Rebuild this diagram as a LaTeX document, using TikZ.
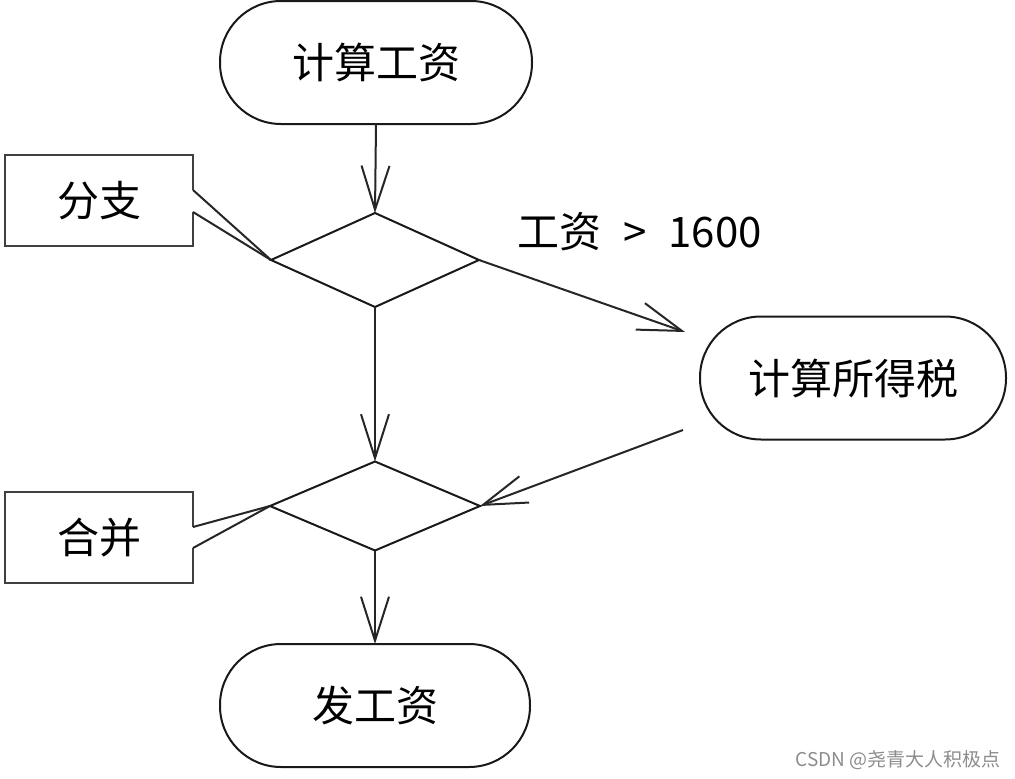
\documentclass[tikz,border=0pt]{standalone}
\usepackage{fontspec}
\newfontfamily\cjk{Noto Sans CJK SC}
\usetikzlibrary{shapes.geometric,arrows.meta,calc}
\begin{document}
\begin{tikzpicture}[x=1pt,y=-1pt,
  lbl/.style={font=\cjk\fontsize{42}{50}\selectfont},
  term/.style={draw=black!90, line width=2pt, rounded corners=61pt,
    minimum width=#1, minimum height=123pt, inner sep=0pt, outer sep=0pt, lbl},
  dec/.style={diamond, draw=black!90, line width=2pt, minimum width=#1,
    inner sep=0pt, outer sep=0pt},
  note/.style={rectangle, minimum width=188pt, minimum height=91pt,
    inner sep=0pt, outer sep=0pt, lbl},
  noteline/.style={draw=black!75, line width=2.4pt, line join=miter},
  conn/.style={draw=black!85, line width=2pt},
  arr/.style={conn, -{Straight Barb[length=44pt,width=28pt]}},
]
\useasboundingbox (0,0) rectangle (1015,779);

% terminals
\node[term=312pt] (start) at (376,62.5) {计算工资};
\node[term=306pt] (tax) at (853,378) {计算所得税};
\node[term=310pt] (end) at (375,705.5) {发工资};

% decisions
\node[dec=208pt, minimum height=94pt] (d1) at (375,260) {};
\node[dec=210pt, minimum height=89pt] (d2) at (375,506) {};

% notes
\node[note] (n1) at (99,200.5) {分支};
\draw[noteline] ($(n1.east)+(0,-10.5)$) -- (n1.north east) -- (n1.north west)
  -- (n1.south west) -- (n1.south east) -- ($(n1.east)+(0,11.5)$);
\draw[conn] ($(n1.east)+(0,-10.5)$) -- (d1.west);
\draw[conn] ($(n1.east)+(0,11.5)$) -- (d1.west);

\node[note] (n2) at (99,537.5) {合并};
\draw[noteline] ($(n2.east)+(0,-10.5)$) -- (n2.north east) -- (n2.north west)
  -- (n2.south west) -- (n2.south east) -- ($(n2.east)+(0,10.5)$);
\draw[conn] ($(n2.east)+(0,-10.5)$) -- (d2.west);
\draw[conn] ($(n2.east)+(0,10.5)$) -- (d2.west);

% connectors
\coordinate (t1) at (685,332);
\coordinate (s2) at (683,430);
\draw[arr] (start.south) -- (d1.north);
\draw[arr] (d1.south) -- (d2.north);
\draw[arr] (d2.south) -- (end.north);
\draw[arr] (d1.east) -- (t1);
\draw[arr] (s2) -- (d2.east);

% condition label
\node[lbl, anchor=west, inner sep=0pt] (cond) at (517,232) {工资\hspace{22pt}>\hspace{22pt}1600};

% watermark
\node[anchor=east, inner sep=0pt, text=black!45, font=\cjk\fontsize{19}{22}\selectfont] (wm) at (1001,760) {CSDN @尧青大人积极点};
\end{tikzpicture}
\end{document}
